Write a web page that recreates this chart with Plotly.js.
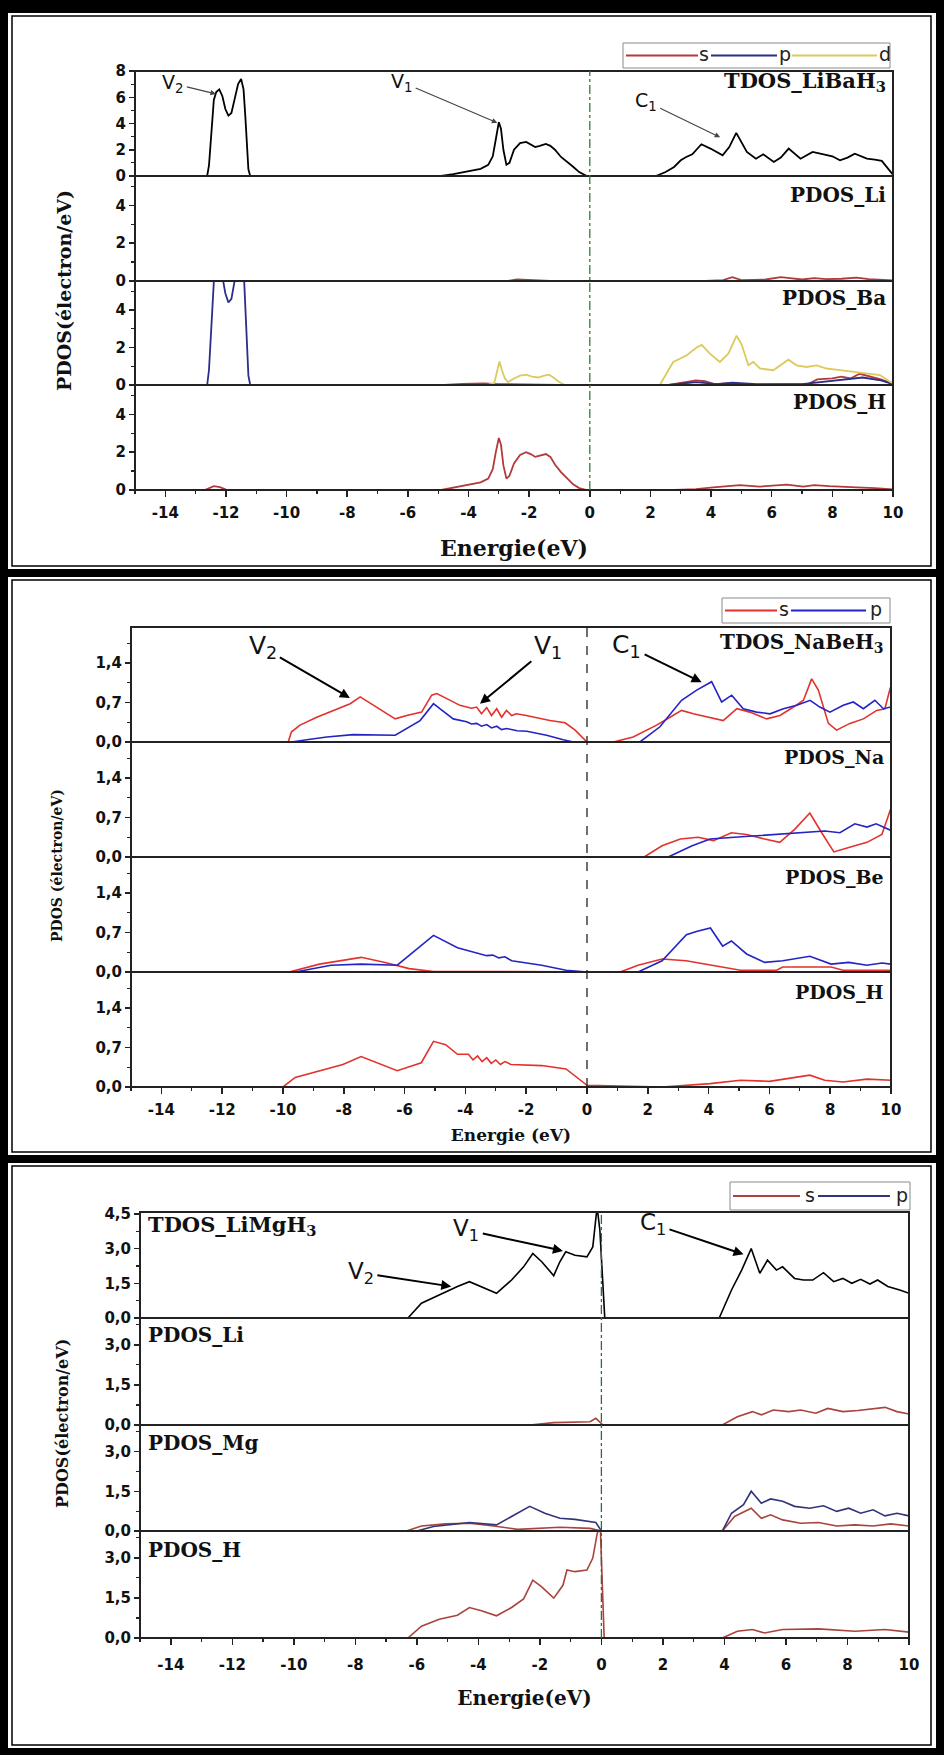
<!DOCTYPE html>
<html>
<head>
<meta charset="utf-8">
<script src="https://cdn.plot.ly/plotly-3.0.1.min.js"></script>
<style>
html,body{margin:0;padding:0;background:#fff;}
#chart{width:944px;height:1755px;}
</style>
</head>
<body>
<div id="chart"></div>
<script>
// ================= DATA (energy eV, DOS) =================
// ---- Panel 1 : LiBaH3 ----
const LiBaH3_TDOS = [[-15,0],[-12.62,0],[-12.56,0.8],[-12.5,2.5],[-12.45,4.5],[-12.4,5.8],[-12.32,6.4],[-12.22,6.6],[-12.12,6.1],[-12.02,5.1],[-11.92,4.6],[-11.82,4.8],[-11.72,5.8],[-11.6,7.0],[-11.5,7.4],[-11.42,6.6],[-11.36,4.5],[-11.31,2.0],[-11.26,0.5],[-11.2,0],
 [-4.9,0],[-4.5,0.15],[-4.0,0.35],[-3.6,0.55],[-3.35,0.85],[-3.2,1.5],[-3.1,2.8],[-3.0,4.1],[-2.93,3.6],[-2.85,2.0],[-2.75,0.85],[-2.65,1.0],[-2.5,2.0],[-2.3,2.5],[-2.1,2.6],[-1.95,2.4],[-1.8,2.2],[-1.65,2.3],[-1.45,2.45],[-1.3,2.3],[-1.15,2.0],[-0.95,1.45],[-0.75,1.1],[-0.55,0.7],[-0.35,0.3],[-0.2,0.08],[-0.1,0],
 [2.18,0],[2.5,0.3],[2.78,0.69],[3.0,1.2],[3.18,1.45],[3.38,1.65],[3.68,2.42],[3.98,2.09],[4.38,1.58],[4.6,2.2],[4.83,3.29],[5.0,2.6],[5.18,1.83],[5.48,1.32],[5.72,1.65],[6.07,1.07],[6.3,1.4],[6.56,2.09],[6.95,1.32],[7.35,1.83],[7.75,1.65],[8.0,1.5],[8.25,1.2],[8.5,1.4],[8.74,1.7],[9.14,1.32],[9.4,1.25],[9.63,1.15],[9.93,0.3],[10,0.1]];
const LiBaH3_Li_s = [[-15,0],[-2.7,0],[-2.4,0.08],[-2.0,0.06],[-1.6,0.05],[-1.3,0],[3.8,0],[4.4,0.05],[4.7,0.2],[5.0,0.05],[5.8,0.08],[6.3,0.2],[6.6,0.15],[7.0,0.08],[7.4,0.15],[7.8,0.1],[8.3,0.12],[8.8,0.18],[9.2,0.1],[9.6,0.08],[10,0.03]];
const LiBaH3_Ba_s = [[-15,0],[-4.8,0],[-4.2,0.06],[-3.5,0.08],[-3.0,0.05],[-2.5,0.04],[-2.0,0.05],[-1.5,0.03],[-1.0,0],[2.6,0],[3.2,0.15],[3.5,0.25],[3.8,0.2],[4.1,0.05],[4.7,0.1],[5.2,0.02],[6.5,0.03],[7.2,0.05],[7.5,0.3],[8.0,0.35],[8.3,0.45],[8.6,0.35],[8.9,0.6],[9.3,0.45],[9.6,0.3],[10,0.05]];
const LiBaH3_Ba_p = [[-15,0],[-12.62,0],[-12.56,0.8],[-12.5,2.4],[-12.45,4.3],[-12.4,5.5],[-12.32,6.0],[-12.22,6.2],[-12.12,5.8],[-12.02,4.9],[-11.92,4.4],[-11.82,4.6],[-11.72,5.5],[-11.6,6.6],[-11.5,7.0],[-11.42,6.3],[-11.36,4.3],[-11.31,1.9],[-11.26,0.5],[-11.2,0],[2.6,0],[3.5,0.15],[4.2,0.05],[4.7,0.12],[5.5,0.04],[7,0.05],[8.2,0.25],[9,0.4],[9.6,0.25],[10,0.05]];
const LiBaH3_Ba_d = [[-15,0],[-3.4,0],[-3.15,0.1],[-3.05,0.8],[-2.98,1.25],[-2.9,0.8],[-2.8,0.35],[-2.7,0.15],[-2.5,0.35],[-2.3,0.5],[-2.1,0.55],[-1.9,0.45],[-1.7,0.4],[-1.5,0.5],[-1.35,0.55],[-1.2,0.4],[-1.0,0.15],[-0.85,0.02],[-0.7,0],[2.31,0],[2.75,1.23],[2.97,1.4],[3.19,1.58],[3.52,2.0],[3.69,2.14],[3.96,1.67],[4.29,1.23],[4.57,1.67],[4.84,2.63],[5.0,2.19],[5.23,1.05],[5.39,1.23],[5.61,0.88],[6.05,0.79],[6.27,1.05],[6.55,1.35],[6.82,1.05],[7.15,0.96],[7.48,1.05],[7.81,0.88],[8.25,0.79],[8.69,0.7],[9.13,0.61],[9.57,0.53],[9.9,0.18],[10,0.1]];
const LiBaH3_H_s = [[-15,0],[-12.7,0],[-12.4,0.2],[-12.2,0.15],[-12.0,0.02],[-11.8,0],[-4.9,0],[-4.5,0.12],[-4.0,0.25],[-3.6,0.4],[-3.35,0.6],[-3.2,1.1],[-3.1,2.0],[-3.0,2.75],[-2.93,2.4],[-2.85,1.3],[-2.75,0.6],[-2.65,0.75],[-2.5,1.4],[-2.3,1.85],[-2.1,2.0],[-1.95,1.9],[-1.8,1.75],[-1.65,1.8],[-1.45,1.9],[-1.3,1.75],[-1.15,1.35],[-0.95,0.95],[-0.75,0.6],[-0.55,0.3],[-0.35,0.1],[-0.2,0.02],[-0.1,0],[2.8,0],[3.5,0.05],[4.07,0.14],[4.5,0.2],[4.95,0.26],[5.6,0.18],[6.0,0.22],[6.5,0.28],[7.04,0.18],[7.4,0.26],[7.9,0.2],[8.3,0.16],[8.8,0.14],[9.4,0.1],[9.9,0.05],[10,0.03]];

// ---- Panel 2 : NaBeH3 ----
const NaBeH3_TDOS_s = [[-15,0],[-9.83,0],[-9.72,0.18],[-9.44,0.30],[-8.89,0.44],[-8.34,0.56],[-7.79,0.68],[-7.46,0.80],[-6.91,0.62],[-6.31,0.41],[-5.93,0.47],[-5.44,0.53],[-5.11,0.83],[-4.94,0.86],[-4.61,0.77],[-4.18,0.65],[-3.8,0.6],[-3.63,0.62],[-3.47,0.50],[-3.30,0.61],[-3.14,0.47],[-2.97,0.59],[-2.81,0.44],[-2.65,0.56],[-2.48,0.47],[-2.32,0.5],[-2.0,0.47],[-1.77,0.44],[-1.22,0.38],[-0.72,0.34],[-0.39,0.21],[0,0],[0.87,0],[1.52,0.09],[2.29,0.30],[2.73,0.44],[3.11,0.56],[3.5,0.50],[4.05,0.44],[4.48,0.38],[4.93,0.59],[5.36,0.53],[5.91,0.41],[6.35,0.47],[6.79,0.62],[7.12,0.74],[7.39,1.12],[7.61,0.92],[7.94,0.33],[8.21,0.21],[8.65,0.33],[9.09,0.41],[9.53,0.56],[9.8,0.59],[9.97,0.95],[10,0.98]];
const NaBeH3_TDOS_p = [[-15,0],[-9.72,0],[-9.22,0.04],[-8.56,0.09],[-7.69,0.13],[-6.91,0.13],[-6.31,0.12],[-5.49,0.38],[-5.05,0.68],[-4.84,0.59],[-4.4,0.41],[-3.96,0.36],[-3.8,0.32],[-3.63,0.33],[-3.47,0.28],[-3.3,0.31],[-3.14,0.25],[-2.97,0.28],[-2.81,0.22],[-2.65,0.24],[-2.3,0.2],[-1.98,0.19],[-1.33,0.12],[-0.78,0.04],[-0.45,0],[1.74,0],[2.40,0.27],[3.11,0.74],[3.61,0.92],[4.1,1.07],[4.43,0.71],[4.76,0.83],[5.14,0.59],[5.58,0.53],[6.02,0.50],[6.46,0.59],[6.9,0.65],[7.34,0.74],[7.66,0.62],[7.99,0.53],[8.43,0.65],[8.76,0.71],[9.09,0.59],[9.47,0.74],[9.75,0.59],[10,0.62]];
const NaBeH3_Na_s = [[-15,0],[1.88,0],[2.47,0.2],[3.07,0.32],[3.66,0.35],[4.16,0.29],[4.75,0.43],[5.25,0.40],[5.84,0.32],[6.34,0.26],[6.83,0.49],[7.33,0.78],[7.72,0.43],[8.12,0.09],[8.61,0.17],[9.21,0.26],[9.7,0.40],[10,0.87]];
const NaBeH3_Na_p = [[-15,0],[2.67,0],[3.46,0.2],[4.05,0.32],[4.85,0.35],[5.64,0.38],[6.44,0.40],[7.03,0.43],[7.82,0.46],[8.32,0.43],[8.81,0.59],[9.21,0.53],[9.51,0.59],[10,0.47]];
const NaBeH3_Be_s = [[-15,0],[-9.8,0],[-8.8,0.14],[-7.43,0.26],[-6.64,0.17],[-5.85,0.06],[-5.05,0.01],[-3,0.01],[0,0],[1.09,0],[1.68,0.12],[2.47,0.23],[3.26,0.2],[4.05,0.12],[5.05,0.03],[6.24,0.03],[6.44,0.09],[8.03,0.09],[8.42,0.03],[10,0.03]];
const NaBeH3_Be_p = [[-15,0],[-9.6,0],[-8.42,0.12],[-7.43,0.14],[-6.24,0.12],[-5.65,0.38],[-5.05,0.65],[-4.26,0.43],[-3.47,0.32],[-3.3,0.29],[-3.1,0.3],[-2.9,0.25],[-2.7,0.27],[-2.48,0.2],[-1.49,0.12],[-0.69,0.03],[0,0],[1.68,0],[2.47,0.2],[3.27,0.66],[3.6,0.72],[4.06,0.78],[4.46,0.46],[4.75,0.55],[5.25,0.32],[5.84,0.17],[6.44,0.2],[7.33,0.28],[8.03,0.14],[8.61,0.17],[9.21,0.12],[9.7,0.16],[10,0.14]];
const NaBeH3_H_s = [[-15,0],[-10.0,0],[-9.6,0.17],[-8.8,0.29],[-8.03,0.40],[-7.43,0.54],[-6.24,0.29],[-5.45,0.43],[-5.05,0.81],[-4.65,0.75],[-4.26,0.58],[-3.9,0.58],[-3.75,0.48],[-3.6,0.55],[-3.45,0.45],[-3.3,0.52],[-3.15,0.42],[-3.0,0.48],[-2.85,0.40],[-2.7,0.45],[-2.5,0.4],[-1.49,0.38],[-0.69,0.32],[0,0.03],[2.47,0],[4.05,0.06],[5.05,0.12],[6.0,0.1],[6.83,0.17],[7.33,0.21],[7.82,0.12],[8.42,0.09],[9.21,0.14],[10,0.12]];

// ---- Panel 3 : LiMgH3 ----
const LiMgH3_TDOS = [[-15,0],[-6.29,0],[-5.85,0.64],[-5.27,1.0],[-4.68,1.36],[-4.29,1.57],[-3.9,1.36],[-3.41,1.07],[-2.92,1.64],[-2.53,2.21],[-2.23,2.79],[-1.94,2.43],[-1.55,1.83],[-1.35,2.43],[-1.16,2.86],[-0.86,2.71],[-0.47,2.64],[-0.28,3.07],[-0.14,4.8],[-0.05,3.8],[0.11,0],[3.83,0],[4.23,1.21],[4.56,2.07],[4.87,3.0],[5.15,1.93],[5.4,2.5],[5.69,2.07],[5.89,2.21],[6.28,1.71],[6.57,1.64],[6.87,1.64],[7.22,1.96],[7.55,1.57],[7.85,1.71],[8.14,1.5],[8.43,1.67],[8.73,1.47],[8.98,1.64],[9.31,1.36],[9.7,1.21],[10,1.07]];
const LiMgH3_Li_s = [[-15,0],[-2.33,0],[-1.55,0.09],[-0.37,0.12],[-0.18,0.25],[-0.02,0.06],[0.05,0],[3.93,0],[4.42,0.31],[4.91,0.5],[5.2,0.38],[5.59,0.56],[6.09,0.5],[6.48,0.56],[6.97,0.44],[7.36,0.62],[7.85,0.5],[8.34,0.54],[8.83,0.62],[9.22,0.66],[9.61,0.5],[10,0.41]];
const LiMgH3_Mg_s = [[-15,0],[-6.34,0],[-5.85,0.19],[-5.07,0.27],[-4.29,0.29],[-3.5,0.19],[-2.72,0.06],[-1.35,0.14],[-0.37,0.1],[0,0],[3.93,0],[4.33,0.55],[4.87,0.86],[5.2,0.48],[5.5,0.61],[5.89,0.42],[6.48,0.29],[7.06,0.32],[7.65,0.19],[8.24,0.23],[8.83,0.19],[9.41,0.27],[10,0.19]];
const LiMgH3_Mg_p = [[-15,0],[-6.0,0],[-5.46,0.17],[-4.29,0.32],[-3.41,0.23],[-2.92,0.55],[-2.33,0.93],[-1.84,0.67],[-1.35,0.48],[-0.86,0.44],[-0.47,0.36],[-0.18,0.32],[0,0],[3.93,0],[4.23,0.67],[4.62,0.99],[4.87,1.5],[5.2,1.05],[5.5,1.21],[5.89,1.12],[6.28,0.93],[6.77,0.86],[7.22,0.95],[7.65,0.74],[8.04,0.86],[8.43,0.67],[8.83,0.8],[9.22,0.57],[9.61,0.67],[10,0.57]];
const LiMgH3_H_s = [[-15,0],[-6.29,0],[-5.85,0.44],[-5.27,0.7],[-4.68,0.85],[-4.29,1.14],[-3.9,1.02],[-3.41,0.83],[-2.92,1.14],[-2.53,1.46],[-2.23,2.16],[-1.94,1.91],[-1.55,1.49],[-1.25,1.97],[-1.12,2.54],[-0.86,2.48],[-0.47,2.54],[-0.28,2.99],[-0.14,3.88],[-0.04,4.3],[0.09,0],[3.93,0],[4.42,0.25],[4.91,0.32],[5.3,0.19],[5.89,0.32],[7.06,0.34],[8.24,0.25],[9.22,0.32],[10,0.22]];

// ticks and labels
const xTickVals = [-14,-12,-10,-8,-6,-4,-2,0,2,4,6,8,10];
const xTickText = ['-14','-12','-10','-8','-6','-4','-2','0','2','4','6','8','10'];
const p1Labels = ['TDOS_LiBaH<sub>3</sub>','PDOS_Li','PDOS_Ba','PDOS_H'];
const p2Labels = ['TDOS_NaBeH<sub>3</sub>','PDOS_Na','PDOS_Be','PDOS_H'];
const p3Labels = ['TDOS_LiMgH<sub>3</sub>','PDOS_Li','PDOS_Mg','PDOS_H'];
const legend1 = ['s','p','d'];
const legend23 = ['s','p'];
// annotations: [text, textE, textDOS, tipE, tipDOS]
const p1Marks = [['V<sub>2</sub>',-13.75,7.05,-12.33,6.25],['V<sub>1</sub>',-6.2,7.15,-3.05,4.05],['C<sub>1</sub>',1.85,5.7,4.3,2.95]];
const p2Marks = [['V<sub>2</sub>',-10.67,1.68,-7.8,0.78],['V<sub>1</sub>',-1.27,1.68,-3.52,0.68],['C<sub>1</sub>',1.31,1.71,3.77,1.06]];
const p3Marks = [['V<sub>1</sub>',-4.39,3.8,-1.25,2.9],['V<sub>2</sub>',-7.82,1.95,-4.88,1.36],['C<sub>1</sub>',1.68,4.07,4.62,2.75]];

// ================= LAYOUT HELPERS =================
const W = 944, H = 1755;
const px = v => v / W;
const py = v => 1 - v / H;
const SERIF = 'DejaVu Serif, Liberation Serif, serif';
const SANS = 'DejaVu Sans, Liberation Sans, sans-serif';

const C1 = {s:'#b23a3a', p:'#2d2d8a', d:'#dccb5c'};
const C2 = {s:'#e2322b', p:'#2424c4'};
const C3 = {s:'#a8433e', p:'#33337a'};

function tr(pairs, xa, ya, color, width, name) {
  return {type:'scatter', mode:'lines', x:pairs.map(p=>p[0]), y:pairs.map(p=>p[1]),
    xaxis:xa, yaxis:ya, name:name, showlegend:false, hoverinfo:'skip',
    line:{color:color, width:width, shape:'linear'}};
}

const traces = [
  tr(LiBaH3_TDOS,'x','y','#000',1.8,'TDOS'),
  tr(LiBaH3_Li_s,'x','y2',C1.s,1.8,'s'),
  tr(LiBaH3_Ba_s,'x','y3',C1.s,1.8,'s'),
  tr(LiBaH3_Ba_p,'x','y3',C1.p,1.8,'p'),
  tr(LiBaH3_Ba_d,'x','y3',C1.d,1.8,'d'),
  tr(LiBaH3_H_s,'x','y4',C1.s,1.8,'s'),

  tr(NaBeH3_TDOS_s,'x2','y5',C2.s,1.6,'s'),
  tr(NaBeH3_TDOS_p,'x2','y5',C2.p,1.6,'p'),
  tr(NaBeH3_Na_s,'x2','y6',C2.s,1.6,'s'),
  tr(NaBeH3_Na_p,'x2','y6',C2.p,1.6,'p'),
  tr(NaBeH3_Be_s,'x2','y7',C2.s,1.6,'s'),
  tr(NaBeH3_Be_p,'x2','y7',C2.p,1.6,'p'),
  tr(NaBeH3_H_s,'x2','y8',C2.s,1.6,'s'),

  tr(LiMgH3_TDOS,'x3','y9','#000',1.6,'TDOS'),
  tr(LiMgH3_Li_s,'x3','y10',C3.s,1.6,'s'),
  tr(LiMgH3_Mg_s,'x3','y11',C3.s,1.6,'s'),
  tr(LiMgH3_Mg_p,'x3','y11',C3.p,1.6,'p'),
  tr(LiMgH3_H_s,'x3','y12',C3.s,1.6,'s')
];

const tickFont = {family:SANS, size:15, color:'#111', weight:'bold'};

// panel geometry (pixels)
const panels = [
  {x:'x', xkey:'xaxis', xl:135, xr:893, yids:['y','y2','y3','y4'], edges:[71,176,281,385,490],
   ranges:[[0,8],[0,5.55],[0,5.55],[0,5.55]], dticks:[2,2,2,2], minors:[1,1,1,1], fmt:'',
   title:'Energie(eV)', tsize:22, tstand:19, tlstand:3, ytitle:'PDOS(électron/eV)', ysize:19, ytx:64, yty:291,
   zline:{color:'#2f7d3a', width:1.3, dash:'dashdot'}, labels:p1Labels, lalign:'right',
   loff:[10,19,17,17], lsizes:[21,20,20,20], marks:p1Marks, msize:19, mcolor:'#444', mw:1.1,
   legend:{box:[623,43,890,68], items:[[626,698,704,C1.s],[711,777,785,C1.p],[792,877,885,C1.d]], names:legend1}},
  {x:'x2', xkey:'xaxis2', xl:131, xr:891, yids:['y5','y6','y7','y8'], edges:[627,742,857,972,1087],
   ranges:[[0,2.04],[0,2.04],[0,2.04],[0,2.04]], dticks:[0.7,0.7,0.7,0.7], minors:[0.35,0.35,0.35,0.35], fmt:'.1f',
   title:'Energie (eV)', tsize:17, tstand:11, tlstand:3, ytitle:'PDOS (électron/eV)', ysize:14, ytx:57, yty:866,
   zline:{color:'#222', width:1.3, dash:'dash'}, labels:p2Labels, lalign:'right',
   loff:[16,15,20,20], lsizes:[20,19,19,19], marks:p2Marks, msize:25, mcolor:'#000', mw:2,
   legend:{box:[722,598,890,623], items:[[725,777,784,C2.s],[791,866,876,C2.p]], names:legend23}},
  {x:'x3', xkey:'xaxis3', xl:140, xr:909, yids:['y9','y10','y11','y12'], edges:[1212,1318,1425,1531,1638],
   ranges:[[0,4.58],[0,4.0],[0,4.0],[0,4.0]], dticks:[1.5,1.5,1.5,1.5], minors:[0.75,0.75,0.75,0.75], fmt:'.1f',
   title:'Energie(eV)', tsize:20, tstand:17, tlstand:7, ytitle:'PDOS(électron/eV)', ysize:16, ytx:62, yty:1424,
   zline:{color:'#2f6e35', width:1.3, dash:'dashdot'}, labels:p3Labels, lalign:'left',
   loff:[13,17,18,19], lsizes:[21,20,20,20], marks:p3Marks, msize:23, mcolor:'#000', mw:2,
   legend:{box:[730,1182,910,1210], items:[[733,800,810,C3.s],[818,890,902,C3.p]], names:legend23}}
];

const layout = {
  width:W, height:H, margin:{l:0,r:0,t:0,b:0}, autosize:false,
  paper_bgcolor:'#ffffff', plot_bgcolor:'rgba(0,0,0,0)',
  separators:', ', showlegend:false,
  font:{family:SANS, size:14, color:'#000'},
  shapes:[], annotations:[]
};

panels.forEach((P) => {
  const bottomY = P.yids[3];
  layout[P.xkey] = {
    domain:[px(P.xl), px(P.xr)], range:[-15,10], anchor:bottomY,
    showgrid:false, zeroline:false, showline:false,
    ticks:'outside', ticklen:6, tickwidth:1.5, tickcolor:'#222',
    tickmode:'array', tickvals:xTickVals, ticktext:xTickText, tickfont:tickFont,
    ticklabelstandoff:P.tlstand,
    minor:{ticks:'outside', ticklen:3, tickwidth:1.2, tickcolor:'#222', dtick:1, tick0:-15},
    title:{text:P.title, font:{family:SERIF, size:P.tsize, color:'#111', weight:'bold'}, standoff:P.tstand}
  };
  P.yids.forEach((yid, i) => {
    const key = 'yaxis' + (yid === 'y' ? '' : yid.slice(1));
    layout[key] = {
      domain:[py(P.edges[i+1]), py(P.edges[i])], range:P.ranges[i], anchor:P.x,
      showgrid:false, zeroline:false, showline:false,
      ticks:'outside', ticklen:5, tickwidth:1.5, tickcolor:'#222',
      tick0:0, dtick:P.dticks[i], tickformat:P.fmt, tickfont:tickFont,
      minor:{ticks:'outside', ticklen:3, tickwidth:1.2, tickcolor:'#222', dtick:P.minors[i]}
    };
    // subplot frame
    layout.shapes.push({type:'rect', xref:'paper', yref:'paper',
      x0:px(P.xl), x1:px(P.xr), y0:py(P.edges[i+1]), y1:py(P.edges[i]),
      line:{color:'#222', width:2}, layer:'above'});
    // subplot label
    layout.annotations.push({xref:'paper', yref:'paper',
      x: P.lalign === 'right' ? px(P.xr - 5) : px(P.xl + 6),
      xanchor:P.lalign, y:py(P.edges[i] + P.loff[i]), yanchor:'middle', showarrow:false,
      text:'<b>' + P.labels[i] + '</b>', font:{family:SERIF, size:P.lsizes[i], color:'#111'}});
  });
  // zero energy line
  layout.shapes.push({type:'line', xref:P.x, x0:0, x1:0, yref:'paper',
    y0:py(P.edges[4]), y1:py(P.edges[0]), line:P.zline, layer:'above'});
  // y title
  layout.annotations.push({xref:'paper', yref:'paper', x:px(P.ytx), y:py(P.yty),
    xanchor:'center', yanchor:'middle', textangle:-90, showarrow:false, text:'<b>' + P.ytitle + '</b>',
    font:{family:SERIF, size:P.ysize, color:'#111'}});
  // peak annotations (on the TDOS subplot)
  P.marks.forEach(m => {
    layout.annotations.push({xref:P.x, yref:P.yids[0], axref:P.x, ayref:P.yids[0],
      x:m[3], y:m[4], ax:m[1], ay:m[2], text:m[0], showarrow:true,
      arrowhead:2, arrowsize:1, arrowwidth:P.mw, arrowcolor:P.mcolor, standoff:0, startstandoff:2,
      font:{family:SANS, size:P.msize, color:'#111'}});
  });
  // legend box (drawn manually, Origin style)
  const L = P.legend;
  layout.shapes.push({type:'rect', xref:'paper', yref:'paper',
    x0:px(L.box[0]), x1:px(L.box[2]), y0:py(L.box[3]), y1:py(L.box[1]),
    line:{color:'#8a8a8a', width:1}, fillcolor:'#ffffff', layer:'above'});
  const yc = (L.box[1] + L.box[3]) / 2;
  L.items.forEach((it, k) => {
    layout.shapes.push({type:'line', xref:'paper', yref:'paper',
      x0:px(it[0]), x1:px(it[1]), y0:py(yc), y1:py(yc), line:{color:it[3], width:2}, layer:'above'});
    layout.annotations.push({xref:'paper', yref:'paper', x:px(it[2]), y:py(yc - 1),
      xanchor:'center', yanchor:'middle', showarrow:false, text:L.names[k],
      font:{family:SANS, size:19, color:'#222'}});
  });
});

// ------ outer borders (figure frame) ------
const blackBands = [[0,0,8,1755],[0,0,944,13],[936,0,944,1755],[0,1748,944,1755],[0,569,944,577],[0,1155,944,1163]];
blackBands.forEach(b => layout.shapes.push({type:'rect', xref:'paper', yref:'paper',
  x0:px(b[0]), x1:px(b[2]), y0:py(b[3]), y1:py(b[1]), line:{width:0}, fillcolor:'#000', layer:'above'}));
const cells = [[12,16,931,566],[12,580,931,1152],[12,1166,931,1745]];
cells.forEach(b => layout.shapes.push({type:'rect', xref:'paper', yref:'paper',
  x0:px(b[0]), x1:px(b[2]), y0:py(b[3]), y1:py(b[1]), line:{width:1.5, color:'#000'}, layer:'above'}));

Plotly.newPlot('chart', traces, layout, {staticPlot:true, displayModeBar:false});
</script>
</body>
</html>
